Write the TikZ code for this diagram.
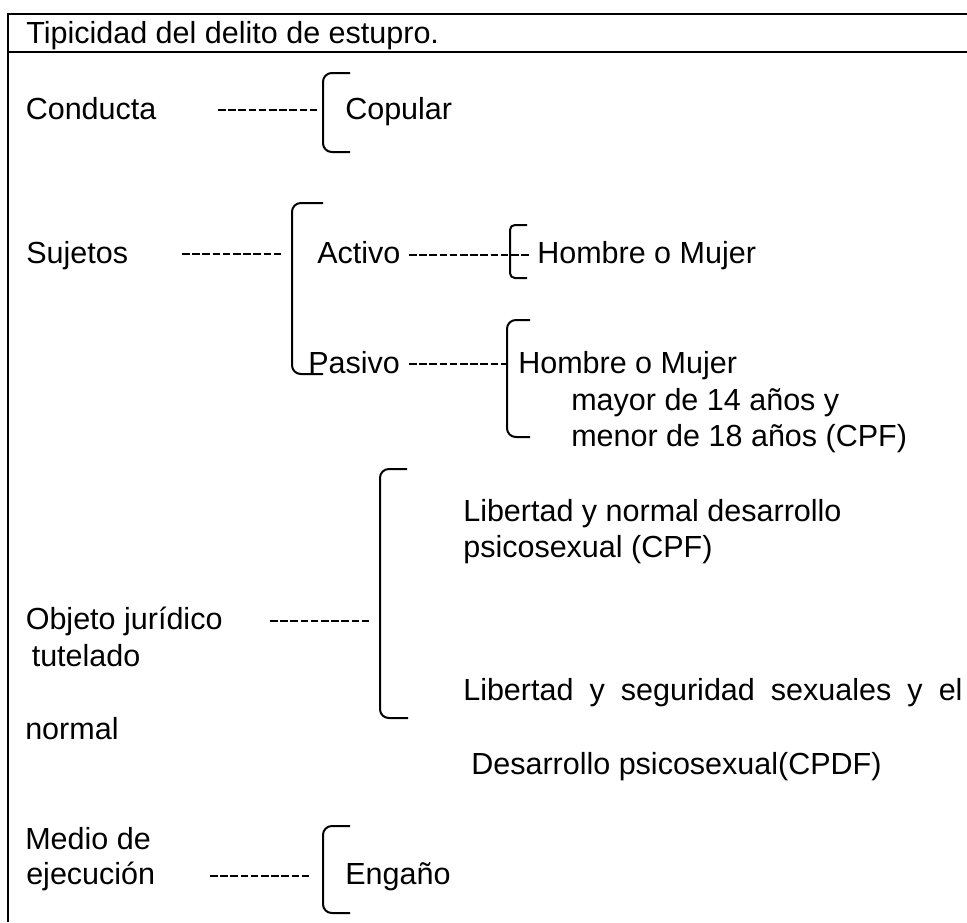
\documentclass[tikz,border=0pt]{standalone}
\usepackage{fontspec}
\setmainfont{Liberation Sans}
\usepackage{tikz}
\usetikzlibrary{calc}

\begin{document}
\begin{tikzpicture}[x=0.025cm, y=-0.025cm,
	txt/.style={anchor=base west, inner sep=0pt, font=\fontsize{21.7}{26}\selectfont},
	brace/.style={line width=0.05cm, rounded corners=0.22cm},
	smallbrace/.style={line width=0.05cm, rounded corners=0.12cm},
	dashline/.style={line width=0.042cm, dash pattern=on 0.19cm off 0.065cm}]
			%%%%% START %%%%%
			\useasboundingbox (0, 0) rectangle (967, 922);
			
			% frame and header
			\draw[line width=0.05cm] (8, 922) -- (8, 14) -- (967, 14);
			\draw[line width=0.05cm] (8, 52) -- (967, 52);
			\node[txt] (titulo) at (26, 43) {Tipicidad del delito de estupro.};
			
			% conducta
			\node[txt] (conducta) at (25.5, 119) {Conducta};
			\coordinate (cdA) at (218, 110);
			\coordinate (brC) at (317, 110);
			\draw[dashline] (cdA) -- (brC);
			\draw[brace] (350, 73) -- (323, 73) -- (323, 152) -- (350, 152);
			\node[txt] (copular) at (345, 119) {Copular};
			
			% sujetos
			\node[txt] (sujetos) at (26, 263) {Sujetos};
			\coordinate (sjA) at (182, 254);
			\coordinate (brS) at (283, 254);
			\draw[dashline] (sjA) -- (brS);
			\draw[brace] (323, 203) -- (292, 203) -- (292, 374) -- (323, 374);
			
			\node[txt] (activo) at (317, 263) {Activo};
			\coordinate (acA) at (409, 255);
			\coordinate (brA) at (529, 255);
			\draw[dashline] (acA) -- (brA);
			\draw[smallbrace] (527, 225) -- (510, 225) -- (510, 278) -- (527, 278);
			\node[txt] (hombreA) at (537, 263) {Hombre o Mujer};
			
			\node[txt] (pasivo) at (308, 373) {Pasivo};
			\coordinate (psA) at (409, 364);
			\coordinate (brP) at (507, 364);
			\draw[dashline] (psA) -- (brP);
			\draw[brace] (530, 320) -- (507, 320) -- (507, 437) -- (530, 437);
			\node[txt] (hombreP) at (518, 373) {Hombre o Mujer};
			\node[txt] (mayor) at (571, 410) {mayor de 14 años y};
			\node[txt] (menor) at (571, 446) {menor de 18 años (CPF)};
			
			% objeto juridico
			\node[txt] (objeto) at (25.5, 629) {Objeto jurídico};
			\node[txt] (tutelado) at (31.5, 666) {tutelado};
			\node[txt] (normal) at (25, 739) {normal};
			\coordinate (ojA) at (270, 621);
			\coordinate (brO) at (370, 621);
			\draw[dashline] (ojA) -- (brO);
			\draw[brace] (407, 469) -- (380, 469) -- (380, 718) -- (408, 718);
			\node[txt] (libA) at (463, 521) {Libertad y normal desarrollo};
			\node[txt] (libB) at (463, 557) {psicosexual (CPF)};
			\node[txt] (libC) at (463, 700) {\makebox[12.48cm][s]{Libertad y seguridad sexuales y el}};
			\node[txt] (desarrollo) at (471, 774) {Desarrollo psicosexual(CPDF)};
			
			% medio de ejecucion
			\node[txt] (medio) at (25, 849) {Medio de};
			\node[txt] (ejecucion) at (26, 884) {ejecución};
			\coordinate (meA) at (210, 876);
			\coordinate (brE) at (310, 876);
			\draw[dashline] (meA) -- (brE);
			\draw[brace] (350, 826) -- (323, 826) -- (323, 913) -- (350, 913);
			\node[txt] (engano) at (345, 884) {Engaño};
			%%%%% END %%%%%
\end{tikzpicture}
\end{document}
